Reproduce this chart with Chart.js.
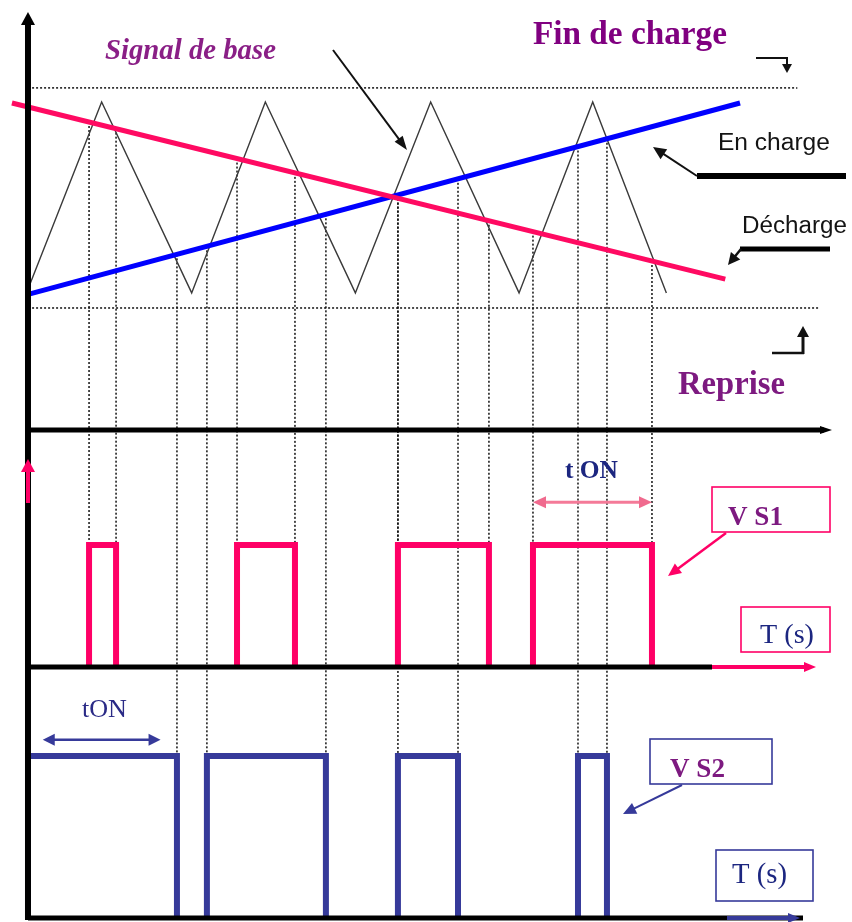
<!DOCTYPE html>
<html>
<head>
<meta charset="utf-8">
<script src="https://cdn.jsdelivr.net/npm/chart.js@4.4.1/dist/chart.umd.min.js"></script>
<style>
  html, body { margin: 0; padding: 0; background: #fff; }
</style>
</head>
<body>
<canvas id="myChart" width="852" height="922"></canvas>
<script>
// time axis in carrier units: one carrier period = 10
const carrierT = [0.1, 4.5, 10.0, 14.5, 20.0, 24.6, 30.0, 34.5, 39.0];
const carrierV = [4.42, 10.0, 4.18, 10.0, 4.18, 10.0, 4.18, 10.0, 4.18];

// modulating signals (straight lines)
const dischargeT = [-0.98, 42.6];
const dischargeV = [9.97, 4.6];
const chargeT = [0.12, 43.5];
const chargeV = [4.15, 9.97];

// dotted limits "Fin de charge" / "Reprise"
const limitV = [10.43, 3.72];
const limitStartT = [0.25, 0.25];
const limitEndT = [47.0, 48.3];

// switching instants of S1 and S2
const s1On = [3.73, 12.77, 22.6, 30.85];
const s1Off = [5.38, 16.31, 28.16, 38.12];
const s2On = [0, 10.93, 22.6, 33.6];
const s2Off = [9.1, 18.2, 26.27, 35.37];

const SERIF = "'Liberation Serif', 'Times New Roman', serif";
const SANS = "'Liberation Sans', Arial, sans-serif";
const PINK = "#ff0066";
const NAVY = "#363a9a";
const PURPLE = "#7d1a80";

// map an axis so that value 0 sits at px0 and value v1 at px1
function band(px0, px1, v1, total = 922) {
  const k = (px0 - px1) / v1;
  return { min: -(total - px0) / k, max: px0 / k };
}

function xy(ts, vs) {
  return ts.map((t, i) => ({ x: t, y: vs[i] }));
}

function pulses(on, off) {
  const pts = [];
  on.forEach((a, i) => {
    pts.push({ x: a, y: 0 }, { x: a, y: 1 }, { x: off[i], y: 1 }, { x: off[i], y: 0 }, { x: off[i], y: null });
  });
  return pts;
}

function lineAt(ts, vs, t) {
  return vs[0] + (vs[1] - vs[0]) * (t - ts[0]) / (ts[1] - ts[0]);
}

function seg(ctx, x1, y1, x2, y2, color, width) {
  ctx.beginPath();
  ctx.moveTo(x1, y1);
  ctx.lineTo(x2, y2);
  ctx.strokeStyle = color;
  ctx.lineWidth = width;
  ctx.stroke();
}

function head(ctx, x1, y1, x2, y2, color, len, half) {
  const a = Math.atan2(y2 - y1, x2 - x1);
  const bx = x2 - len * Math.cos(a), by = y2 - len * Math.sin(a);
  ctx.beginPath();
  ctx.moveTo(x2, y2);
  ctx.lineTo(bx + half * Math.sin(a), by - half * Math.cos(a));
  ctx.lineTo(bx - half * Math.sin(a), by + half * Math.cos(a));
  ctx.closePath();
  ctx.fillStyle = color;
  ctx.fill();
}

function arrow(ctx, x1, y1, x2, y2, color, width, len, half) {
  const a = Math.atan2(y2 - y1, x2 - x1);
  seg(ctx, x1, y1, x2 - (len - 2) * Math.cos(a), y2 - (len - 2) * Math.sin(a), color, width);
  head(ctx, x1, y1, x2, y2, color, len, half);
}

function fitText(ctx, text, x, base, width, style, family, color) {
  ctx.font = `${style} 100px ${family}`;
  const size = 100 * width / ctx.measureText(text).width;
  ctx.font = `${style} ${size}px ${family}`;
  ctx.fillStyle = color;
  ctx.textAlign = "left";
  ctx.textBaseline = "alphabetic";
  ctx.fillText(text, x, base);
}

const labels = [
  { text: "Signal de base", x: 105, base: 59, w: 171, style: "italic bold", fam: SERIF, color: "#8a1f86" },
  { text: "Fin de charge", x: 533, base: 44, w: 194, style: "bold", fam: SERIF, color: "#800080" },
  { text: "En charge", x: 718, base: 150, w: 112, style: "", fam: SANS, color: "#141414" },
  { text: "Décharge", x: 742, base: 233, w: 105, style: "", fam: SANS, color: "#141414" },
  { text: "Reprise", x: 678, base: 394, w: 107, style: "bold", fam: SERIF, color: PURPLE },
  { text: "t ON", x: 565, base: 478, w: 53, style: "bold", fam: SERIF, color: "#1c2680" },
  { text: "V S1", x: 728, base: 525, w: 55, style: "bold", fam: SERIF, color: PURPLE },
  { text: "T (s)", x: 760, base: 643, w: 54, style: "", fam: SERIF, color: "#1c2680" },
  { text: "tON", x: 82, base: 717, w: 45, style: "", fam: SERIF, color: "#2a2a86" },
  { text: "V S2", x: 670, base: 777, w: 55, style: "bold", fam: SERIF, color: PURPLE },
  { text: "T (s)", x: 732, base: 883, w: 55, style: "", fam: SERIF, color: "#1c2680" }
];

const boxes = [
  { x: 712, y: 487, w: 118, h: 45, color: PINK },
  { x: 741, y: 607, w: 89, h: 45, color: PINK },
  { x: 650, y: 739, w: 122, h: 45, color: NAVY },
  { x: 716, y: 850, w: 97, h: 51, color: NAVY }
];

const dropLines = {
  id: "dropLines",
  beforeDatasetsDraw(chart) {
    const { ctx, scales } = chart;
    const X = (t) => scales.x.getPixelForValue(t);
    ctx.save();
    ctx.setLineDash([2, 2]);
    s1On.concat(s1Off).forEach((t) => {
      const y0 = scales.yTop.getPixelForValue(lineAt(dischargeT, dischargeV, t));
      seg(ctx, X(t), y0, X(t), scales.yS1.getPixelForValue(1), "#111", 1.5);
    });
    s2On.concat(s2Off).filter((t) => t > 0).forEach((t) => {
      const y0 = scales.yTop.getPixelForValue(lineAt(chargeT, chargeV, t));
      seg(ctx, X(t), y0, X(t), scales.yS2.getPixelForValue(1), "#111", 1.5);
    });
    ctx.restore();
  }
};

const decorations = {
  id: "decorations",
  afterDatasetsDraw(chart) {
    const { ctx, scales } = chart;
    const X = (t) => scales.x.getPixelForValue(t);
    const x0 = X(0);
    const yTop0 = scales.yTop.getPixelForValue(0);
    const yS10 = scales.yS1.getPixelForValue(0);
    const yS20 = scales.yS2.getPixelForValue(0);
    ctx.save();
    ctx.lineCap = "butt";

    // axes
    seg(ctx, x0, 22, x0, yS20 + 2, "#000", 6);
    head(ctx, x0, 40, x0, 12, "#000", 13, 7);
    seg(ctx, x0, yTop0, 824, yTop0, "#000", 5);
    head(ctx, 800, yTop0, 832, yTop0, "#000", 12, 4);
    seg(ctx, x0, yS10, 712, yS10, "#000", 5);
    arrow(ctx, 712, yS10, 816, yS10, PINK, 4, 12, 5);
    seg(ctx, x0, yS20, 803, yS20, "#000", 5);
    arrow(ctx, 727, yS20, 800, yS20, NAVY, 4, 12, 5);
    arrow(ctx, x0, 503, x0, 459, PINK, 4, 13, 7);

    // tON spans
    const yTon1 = scales.yS1.getPixelForValue(1.35);
    seg(ctx, X(s1On[3]) + 8, yTon1, X(s1Off[3]) - 8, yTon1, "#f47a98", 3);
    head(ctx, X(s1Off[3]), yTon1, X(s1On[3]), yTon1, "#f06a8e", 13, 6);
    head(ctx, X(s1On[3]), yTon1, X(s1Off[3]), yTon1, "#f06a8e", 13, 6);
    const yTon2 = scales.yS2.getPixelForValue(1.1);
    seg(ctx, X(0.9) + 8, yTon2, X(8.1) - 8, yTon2, NAVY, 2.5);
    head(ctx, X(8.1), yTon2, X(0.9), yTon2, NAVY, 12, 6);
    head(ctx, X(0.9), yTon2, X(8.1), yTon2, NAVY, 12, 6);

    // callouts
    arrow(ctx, 333, 50, 407, 150, "#111", 2, 14, 5);
    seg(ctx, 697, 176, 846, 176, "#000", 6);
    arrow(ctx, 697, 176, 653, 147, "#111", 2, 13, 6);
    seg(ctx, 740, 249, 830, 249, "#000", 5);
    arrow(ctx, 741, 249, 728, 265, "#111", 2.5, 12, 6);
    seg(ctx, 756, 58, 788, 58, "#111", 2);
    arrow(ctx, 787, 57, 787, 73, "#111", 2, 9, 5);
    seg(ctx, 772, 353, 804, 353, "#111", 2.5);
    arrow(ctx, 803, 354, 803, 326, "#111", 3, 11, 6);
    arrow(ctx, 726, 533, 668, 576, PINK, 2.5, 13, 6);
    arrow(ctx, 682, 785, 623, 814, NAVY, 2, 13, 6);

    // boxes and labels
    ctx.setLineDash([]);
    boxes.forEach((b) => {
      ctx.strokeStyle = b.color;
      ctx.lineWidth = 1.6;
      ctx.strokeRect(b.x, b.y, b.w, b.h);
    });
    labels.forEach((l) => fitText(ctx, l.text, l.x, l.base, l.w, l.style, l.fam, l.color));
    ctx.restore();
  }
};

const topBand = band(430, 102, 10);
const s1Band = band(667, 545, 1);
const s2Band = band(918, 756, 1);

new Chart(document.getElementById("myChart"), {
  type: "line",
  data: {
    datasets: [
      {
        label: "Décharge",
        data: xy(dischargeT, dischargeV),
        yAxisID: "yTop",
        borderColor: "#ff0a62",
        borderWidth: 5
      },
      {
        label: "En charge",
        data: xy(chargeT, chargeV),
        yAxisID: "yTop",
        borderColor: "#0000ff",
        borderWidth: 5
      },
      {
        label: "Signal de base",
        data: xy(carrierT, carrierV),
        yAxisID: "yTop",
        borderColor: "#3a3a3a",
        borderWidth: 1.4
      },
      {
        label: "Fin de charge",
        data: [{ x: limitStartT[0], y: limitV[0] }, { x: limitEndT[0], y: limitV[0] }],
        yAxisID: "yTop",
        borderColor: "#111",
        borderWidth: 1.5,
        borderDash: [2, 2]
      },
      {
        label: "Reprise",
        data: [{ x: limitStartT[1], y: limitV[1] }, { x: limitEndT[1], y: limitV[1] }],
        yAxisID: "yTop",
        borderColor: "#111",
        borderWidth: 1.5,
        borderDash: [2, 2]
      },
      {
        label: "V S1",
        data: pulses(s1On, s1Off),
        yAxisID: "yS1",
        borderColor: PINK,
        borderWidth: 6,
        borderJoinStyle: "miter"
      },
      {
        label: "V S2",
        data: pulses(s2On, s2Off),
        yAxisID: "yS2",
        borderColor: NAVY,
        borderWidth: 6,
        borderJoinStyle: "miter"
      }
    ]
  },
  options: {
    responsive: false,
    animation: false,
    layout: { padding: 0 },
    elements: { point: { radius: 0 }, line: { tension: 0 } },
    scales: {
      x: { type: "linear", min: -1.71, max: 50.34, display: false },
      yTop: { type: "linear", min: topBand.min, max: topBand.max, display: false },
      yS1: { type: "linear", min: s1Band.min, max: s1Band.max, display: false },
      yS2: { type: "linear", min: s2Band.min, max: s2Band.max, display: false }
    },
    plugins: {
      legend: { display: false },
      tooltip: { enabled: false }
    }
  },
  plugins: [dropLines, decorations]
});
</script>
</body>
</html>
